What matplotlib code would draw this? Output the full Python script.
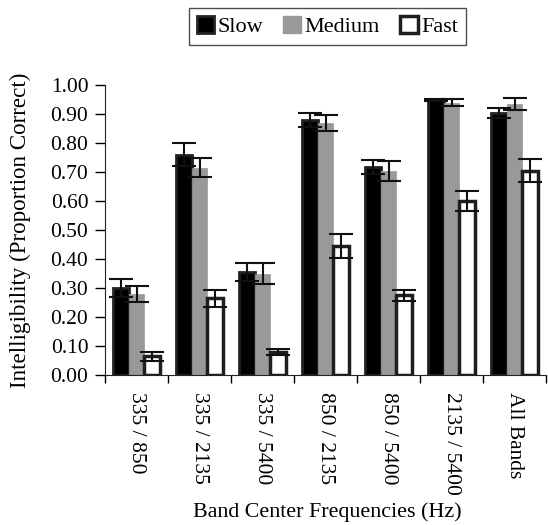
"""Intelligibility by band pair and speaking rate."""
import matplotlib
matplotlib.use("Agg")
import matplotlib.pyplot as plt
import numpy as np
from matplotlib.patches import Patch

matplotlib.rcParams["font.family"] = ["Liberation Serif", "DejaVu Serif"]
matplotlib.rcParams["font.size"] = 15.5

band_pairs = ["335 / 850", "335 / 2135", "335 / 5400", "850 / 2135",
              "850 / 5400", "2135 / 5400", "All Bands"]

slow = [0.30, 0.76, 0.355, 0.88, 0.718, 0.948, 0.905]
medium = [0.28, 0.715, 0.35, 0.87, 0.703, 0.94, 0.935]
fast = [0.065, 0.265, 0.08, 0.445, 0.275, 0.60, 0.705]

slow_err = [0.03, 0.04, 0.03, 0.025, 0.025, 0.004, 0.018]
medium_err = [0.028, 0.033, 0.035, 0.028, 0.035, 0.012, 0.02]
fast_err = [0.015, 0.03, 0.01, 0.04, 0.02, 0.035, 0.04]

yticks = np.arange(0, 1.01, 0.1)

BAR_W = 0.245
ERR_KW = dict(ecolor="#111111", elinewidth=1.5, capsize=8.5, capthick=1.5)

fig = plt.figure(figsize=(5.48, 5.25), dpi=100)
ax = fig.add_axes([0.1916, 0.2857, 0.805, 0.552])

x = np.arange(len(band_pairs))
ax.bar(x - BAR_W, slow, BAR_W, color="black", edgecolor="#222222",
       linewidth=2.0, zorder=2)
ax.bar(x, medium, BAR_W, color="#999999", edgecolor="#999999",
       linewidth=0.5, zorder=2)
ax.bar(x + BAR_W, fast, BAR_W, color="white", edgecolor="#1e1e1e",
       linewidth=2.5, zorder=2)

ax.errorbar(x - BAR_W, slow, yerr=slow_err, fmt="none", zorder=3, **ERR_KW)
ax.errorbar(x, medium, yerr=medium_err, fmt="none", zorder=3, **ERR_KW)
ax.errorbar(x + BAR_W, fast, yerr=fast_err, fmt="none", zorder=3, **ERR_KW)

ax.set_xlim(-0.5, len(band_pairs) - 0.5)
ax.set_ylim(0, 1.0)
ax.set_yticks(yticks)
ax.set_yticklabels([f"{v:.2f}" for v in yticks])

# labels sit at group centres, tick marks sit between groups
ax.set_xticks(x)
ax.set_xticklabels(band_pairs, rotation=270)
ax.set_xticks(np.arange(-0.5, len(band_pairs), 1.0), minor=True)
ax.tick_params(axis="x", which="major", length=0, pad=12)
ax.tick_params(axis="x", which="minor", length=6, width=1, direction="out")
ax.tick_params(axis="y", length=7, width=1, direction="out", pad=5)

for side in ("top", "right"):
    ax.spines[side].set_visible(False)
ax.spines["left"].set_color("#222222")
ax.spines["bottom"].set_color("#222222")

ax.set_ylabel("Intelligibility (Proportion Correct)", fontsize=16.6)
ax.yaxis.set_label_coords(-0.168, 0.5)
fig.text(0.598, 1 - 512 / 525, "Band Center Frequencies (Hz)",
         ha="center", va="center", fontsize=15.8)

handles = [
    Patch(facecolor="black", edgecolor="#222222", linewidth=2.0, label="Slow"),
    Patch(facecolor="#999999", edgecolor="#999999", label="Medium"),
    Patch(facecolor="white", edgecolor="#1e1e1e", linewidth=2.5, label="Fast"),
]
leg = fig.legend(handles=handles, loc="upper center", ncol=3,
                 bbox_to_anchor=(0.597, 0.985), borderaxespad=0,
                 frameon=True, fancybox=False, fontsize=16,
                 edgecolor="#222222", handlelength=0.8, handleheight=0.8,
                 handletextpad=0.15, columnspacing=0.9, borderpad=0.35)
leg.get_frame().set_linewidth(1.0)

fig.savefig("out.png", dpi=100)
